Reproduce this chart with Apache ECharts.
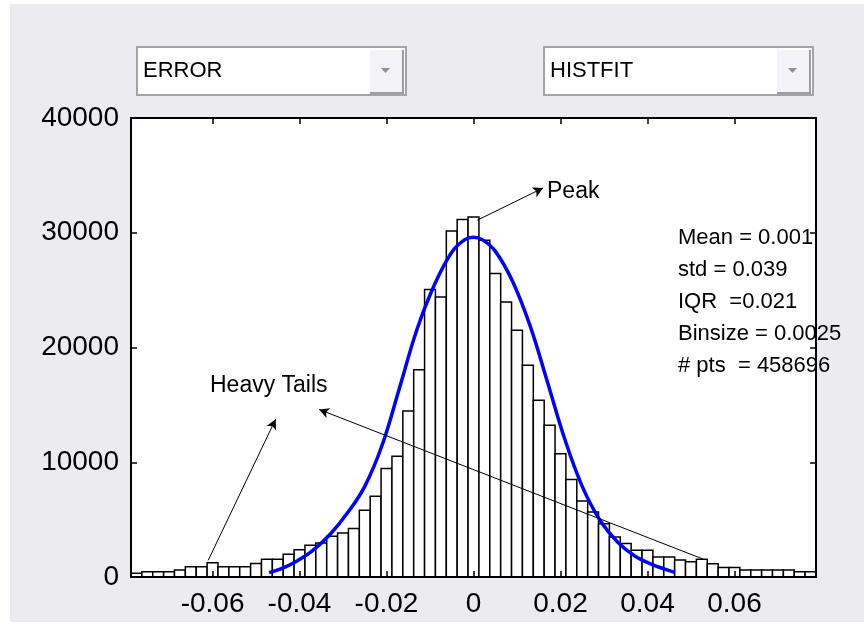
<!DOCTYPE html>
<html>
<head>
<meta charset="utf-8">
<script src="https://cdn.jsdelivr.net/npm/echarts@6/dist/echarts.min.js"></script>
<style>
html,body{margin:0;padding:0;background:#ffffff;}
#c{width:864px;height:632px;}
</style>
</head>
<body>
<div id="c"></div>
<script>
// ---------- data ----------
const binSize = 0.0025;
const firstBinCenter = -0.0775;
const counts = [320, 460, 460, 460, 610, 900, 900, 1250, 900, 900, 900, 1180, 1550, 1550, 1980, 2370,
  2760, 2960, 3550, 3830, 4220, 5810, 7030, 9450, 10520, 14470, 18070, 25050, 24400, 30150, 31150, 31370,
  29340, 26440, 23970, 21500, 18450, 15400, 13220, 10750, 8490, 6620, 5660, 4650, 3490, 2910, 2330, 2330,
  1740, 1740, 1480, 1330, 1540, 1150, 830, 830, 600, 600, 600, 600, 600, 460, 460];
const binCenters = counts.map((_, i) => +(firstBinCenter + i * binSize).toFixed(4));
const xMin = firstBinCenter - binSize / 2;
const xMax = binCenters[binCenters.length - 1] + binSize / 2;

const fitX = [-0.047, -0.044, -0.041, -0.037, -0.033, -0.029, -0.025, -0.021, -0.017, -0.013,
  -0.009, -0.005, -0.002, 0.0, 0.002, 0.005, 0.009, 0.013, 0.017, 0.021,
  0.025, 0.029, 0.033, 0.037, 0.041, 0.0463];
const fitY = [380, 750, 1300, 2300, 3700, 5570, 7900, 11500, 16500, 21570,
  25450, 28300, 29400, 29600, 29400, 28400, 25750, 21900, 17000, 12000,
  7900, 5000, 3100, 1850, 1100, 400];

const yTicks = [0, 10000, 20000, 30000, 40000];
const xTickLabels = ['-0.06', '-0.04', '-0.02', '0', '0.02', '0.04', '0.06'];

const statsLines = ['Mean = 0.001', 'std = 0.039', 'IQR  =0.021', 'Binsize = 0.0025', '# pts  = 458696'];
const menuLeft = 'ERROR';
const menuRight = 'HISTFIT';

// annotation arrows in data coordinates [from, to]
const peakArrow = [[0.0009, 31100], [0.0160, 33900]];
const tailArrowLeft = [[-0.0610, 1450], [-0.0455, 13750]];
const tailArrowRight = [[0.0528, 1560], [-0.0355, 14600]];

// ---------- chart ----------
const FONT = '"Liberation Sans", Arial, Helvetica, sans-serif';
const chart = echarts.init(document.getElementById('c'), null, {renderer: 'canvas'});

function fmtX(v) {
  const k = v / 0.02;
  if (Math.abs(k - Math.round(k)) > 1e-6) return '';
  const s = (+v.toFixed(2)).toString();
  return xTickLabels.indexOf(s) >= 0 ? s : '';
}

function dropdown(x, label) {
  return [
    {type: 'rect', z: 1, shape: {x: x, y: 47, width: 269, height: 48},
      style: {fill: '#ffffff', stroke: '#a3a3a8', lineWidth: 2}},
    {type: 'rect', z: 2, shape: {x: x + 233, y: 50, width: 33, height: 43},
      style: {fill: '#f3f2f6', stroke: null}},
    {type: 'polyline', z: 3, shape: {points: [[x + 233, 93], [x + 266, 93], [x + 266, 50]]},
      style: {stroke: '#9c9ca2', lineWidth: 2, fill: null}},
    {type: 'polygon', z: 3, shape: {points: [[x + 244, 68], [x + 253, 68], [x + 248.5, 73]]},
      style: {fill: '#8f8f95'}},
    {type: 'text', z: 3, x: x + 6, y: 71,
      style: {text: label, font: '22px ' + FONT, fill: '#000', verticalAlign: 'middle', align: 'left'}}
  ];
}

function renderBin(params, api) {
  const c = api.value(0), h = api.value(1);
  const p0 = api.coord([c - binSize / 2, h]);
  const p1 = api.coord([c + binSize / 2, 0]);
  return {
    type: 'rect',
    shape: {x: p0[0], y: p0[1], width: p1[0] - p0[0], height: p1[1] - p0[1]},
    style: {fill: '#ffffff', stroke: '#000000', lineWidth: 1.5}
  };
}

const option = {
  animation: false,
  backgroundColor: '#ffffff',
  grid: {left: 131, top: 118, width: 685, height: 459, containLabel: false,
    show: true, backgroundColor: '#ffffff', borderWidth: 0},
  graphic: [
    {type: 'rect', z: -10, shape: {x: 10, y: 4, width: 854, height: 618}, style: {fill: '#ecebef'}},
    ...dropdown(137, menuLeft),
    ...dropdown(544, menuRight),
    {type: 'text', z: 1, x: 547, y: 192,
      style: {text: 'Peak', font: '23px ' + FONT, fill: '#000', verticalAlign: 'middle'}},
    {type: 'text', z: 1, x: 210, y: 386,
      style: {text: 'Heavy Tails', font: '23px ' + FONT, fill: '#000', verticalAlign: 'middle'}},
    {type: 'text', z: 1, x: 678, y: 222,
      style: {text: statsLines.join('\n'), font: '22px ' + FONT, lineHeight: 32, fill: '#000', verticalAlign: 'top'}}
  ],
  xAxis: [
    {type: 'value', min: xMin, max: xMax, splitNumber: 8, position: 'bottom', z: 10,
      axisLine: {show: true, onZero: false, lineStyle: {color: '#000', width: 2}},
      axisTick: {show: true, inside: true, length: 6, lineStyle: {color: '#000', width: 1.5}},
      axisLabel: {show: true, formatter: fmtX, showMinLabel: false, showMaxLabel: false,
        color: '#000', fontSize: 28, fontFamily: FONT, margin: 13},
      splitLine: {show: false}},
    {type: 'value', min: xMin, max: xMax, splitNumber: 8, position: 'top', z: 10,
      axisLine: {show: true, onZero: false, lineStyle: {color: '#000', width: 2}},
      axisTick: {show: true, inside: true, length: 6, lineStyle: {color: '#000', width: 1.5}},
      axisLabel: {show: false}, splitLine: {show: false}}
  ],
  yAxis: [
    {type: 'value', min: yTicks[0], max: yTicks[yTicks.length - 1], interval: yTicks[1] - yTicks[0],
      position: 'left', z: 10,
      axisLine: {show: true, onZero: false, lineStyle: {color: '#000', width: 2}},
      axisTick: {show: true, inside: true, length: 6, lineStyle: {color: '#000', width: 1.5}},
      axisLabel: {color: '#000', fontSize: 28, fontFamily: FONT, margin: 12, formatter: v => String(v)},
      splitLine: {show: false}},
    {type: 'value', min: yTicks[0], max: yTicks[yTicks.length - 1], interval: yTicks[1] - yTicks[0],
      position: 'right', z: 10,
      axisLine: {show: true, onZero: false, lineStyle: {color: '#000', width: 2}},
      axisTick: {show: true, inside: true, length: 6, lineStyle: {color: '#000', width: 1.5}},
      axisLabel: {show: false}, splitLine: {show: false}}
  ],
  series: [
    {type: 'custom', name: 'counts', xAxisIndex: 0, yAxisIndex: 0, z: 2,
      data: binCenters.map((c, i) => [c, counts[i]]), renderItem: renderBin, silent: true},
    {type: 'line', name: 'fit', xAxisIndex: 0, yAxisIndex: 0, z: 3,
      data: fitX.map((x, i) => [x, fitY[i]]), smooth: 0.4, showSymbol: false, symbol: 'none',
      lineStyle: {color: '#0000ff', width: 3.5}, silent: true,
      markLine: {silent: true, symbol: ['none', 'arrow'], symbolSize: [8, 10], animation: false,
        label: {show: false},
        lineStyle: {color: '#000', width: 1, type: 'solid'},
        emphasis: {disabled: true},
        data: [
          [{coord: peakArrow[0]}, {coord: peakArrow[1]}],
          [{coord: tailArrowLeft[0]}, {coord: tailArrowLeft[1]}],
          [{coord: tailArrowRight[0]}, {coord: tailArrowRight[1]}]
        ]}}
  ]
};
chart.setOption(option);
</script>
</body>
</html>
